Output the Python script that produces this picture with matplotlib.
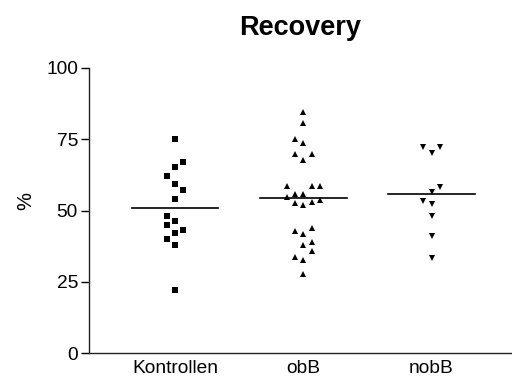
import numpy as np
import matplotlib
matplotlib.use('Agg')
import matplotlib.pyplot as plt

plt.rcParams['font.family'] = ['Liberation Sans', 'DejaVu Sans']

groups = ['Kontrollen', 'obB', 'nobB']

kontrollen = [75.1, 67.1, 65.1, 62.1, 59.2, 57.1, 54.1, 48.2, 46.2, 44.9, 43.2, 42.0, 40.1, 37.9, 22.0]
kontrollen_slot = [0, 1, 0, -1, 0, 1, 0, -1, 0, -1, 1, 0, -1, 0, 0]

obb = [84.7, 80.6, 75.0, 73.8, 69.8, 69.8, 67.7, 58.6, 58.6, 58.6, 54.9, 55.8, 55.8,
       52.7, 51.9, 53.0, 53.7, 42.9, 41.8, 43.7, 38.0, 38.8, 35.9, 33.8, 32.6, 27.7]
obb_slot = [0, 0, -1, 0, -1, 1, 0, -2, 1, 2, -2, -1, 0, -1, 0, 1, 2, -1, 0, 1, 0, 1, 1, -1, 0, 0]

nobb = [72.4, 70.1, 72.4, 58.4, 56.4, 53.5, 52.2, 48.1, 41.2, 33.2]
nobb_slot = [-1, 0, 1, 1, 0, -1, 0, 0, 0, 0]

yticks = [0, 25, 50, 75, 100]

fig = plt.figure(figsize=(5.12, 3.86), dpi=100)
ax = fig.add_axes([89 / 512, 33 / 386, 423 / 512, 285 / 386])

step = 0.065
half = 0.338
series = [(kontrollen, kontrollen_slot, 's', 4.4),
          (obb, obb_slot, '^', 4.8),
          (nobb, nobb_slot, 'v', 4.8)]
for i, (vals, slots, m, ms) in enumerate(series):
    x = i + 1 + step * np.array(slots)
    ax.plot(x, vals, linestyle='none', marker=m, markersize=ms,
            color='black', markeredgewidth=0)
    mu = np.mean(vals)
    ax.plot([i + 1 - half, i + 1 + half], [mu, mu], color='black', lw=1.2)

ax.set_xlim(0.33, 3.627)
ax.set_ylim(0, 100)
ax.set_xticks([1, 2, 3])
ax.set_xticklabels(groups, fontsize=13.8)
ax.set_yticks(yticks)
ax.set_yticklabels([str(t) for t in yticks], fontsize=13.8)
ax.tick_params(axis='x', length=0, pad=5)
ax.tick_params(axis='y', length=6, width=1, pad=2, direction='out')
for s in ['top', 'right']:
    ax.spines[s].set_visible(False)
for s in ['left', 'bottom']:
    ax.spines[s].set_linewidth(1)
    ax.spines[s].set_color('#222222')

ax.set_ylabel('%', fontsize=14.5)
ax.yaxis.set_label_coords(-0.127, 0.535)
ax.set_title('Recovery', fontsize=19.5, fontweight='bold', pad=24)

fig.savefig('out.png', dpi=100)
